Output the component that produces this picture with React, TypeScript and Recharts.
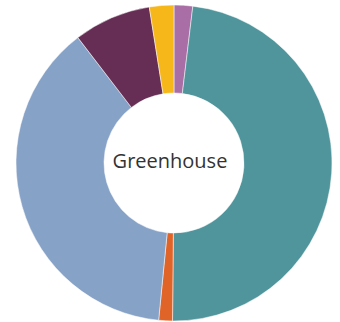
import React from 'react';
import { PieChart, Pie, Cell, Label } from 'recharts';

// slices clockwise from 12 o'clock
const categories = ['Pink', 'Teal', 'Orange', 'Blue', 'Purple', 'Yellow'];
const shares = [1.9, 48.2, 1.4, 38.0, 7.9, 2.5];
const colors = ['#A86EA5', '#4F959B', '#E06428', '#87A2C7', '#662E54', '#F6B71A'];

const data = categories.map((name, i) => ({ name, value: shares[i] }));

const App: React.FC = () => {
  return (
    <div style={{ position: 'absolute', left: 0, top: 0 }}>
      <PieChart width={340} height={322} margin={{ top: 0, right: 0, bottom: 0, left: 0 }}>
        <Pie
          data={data}
          dataKey="value"
          nameKey="name"
          cx={174}
          cy={163}
          innerRadius={70}
          outerRadius={158}
          startAngle={90}
          endAngle={-270}
          stroke="#fff"
          strokeWidth={0.5}
          isAnimationActive={false}
        >
          {data.map((d, i) => (
            <Cell key={d.name} fill={colors[i]} />
          ))}
          <Label
            value="Greenhouse"
            position="center"
            fill="#333"
            style={{ fontSize: 20, fontFamily: '"Open Sans", sans-serif' }}
          />
        </Pie>
      </PieChart>
    </div>
  );
};

export default App;
